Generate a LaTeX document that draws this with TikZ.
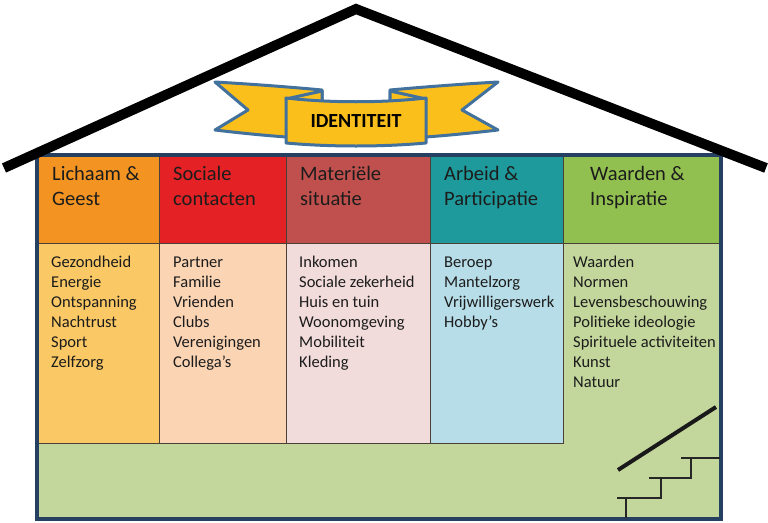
\documentclass[tikz,border=0pt]{standalone}
\usepackage{fontspec}
\setmainfont{Carlito}
\definecolor{hdA}{HTML}{F39422}
\definecolor{hdB}{HTML}{E42124}
\definecolor{hdC}{HTML}{C0504D}
\definecolor{hdD}{HTML}{1F9A9C}
\definecolor{hdE}{HTML}{92C050}
\definecolor{bdA}{HTML}{FAC864}
\definecolor{bdB}{HTML}{FBD4B4}
\definecolor{bdC}{HTML}{F2DCDB}
\definecolor{bdD}{HTML}{B7DDE8}
\definecolor{bdE}{HTML}{C3D69B}
\definecolor{housebd}{HTML}{254061}
\definecolor{bannerfill}{HTML}{FBBF1C}
\definecolor{bannerline}{HTML}{41719C}
\definecolor{txt}{HTML}{1C1C1C}
\definecolor{cellline}{HTML}{4A4038}
\tikzset{
  hdr/.style={anchor=base west, inner sep=0pt, text=txt, font=\fontsize{20.5}{25}\selectfont},
  item/.style={anchor=base west, inner sep=0pt, text=txt, font=\fontsize{16.5}{20}\selectfont},
  cellbox/.style={draw=cellline, line width=0.8pt},
  roofline/.style={line width=10pt, draw=black, line join=miter},
  bannerpart/.style={fill=bannerfill, draw=bannerline, line width=3pt, line join=round},
  stairline/.style={line width=1.6pt, draw=black!85},
  railline/.style={line width=4pt, draw=black!90}
}
\begin{document}
\begin{tikzpicture}[x=1pt,y=-1pt]
\useasboundingbox (0,0) rectangle (768,522);
% house body
\fill[bdE] (37,155) rectangle (721,519);
% header cells
\filldraw[cellbox, fill=hdA] (37,155) rectangle (159,243);
\filldraw[cellbox, fill=hdB] (159,155) rectangle (286,243);
\filldraw[cellbox, fill=hdC] (286,155) rectangle (430,243);
\filldraw[cellbox, fill=hdD] (430,155) rectangle (563,243);
\filldraw[cellbox, fill=hdE] (563,155) rectangle (721,243);
% body cells
\filldraw[cellbox, fill=bdA] (37,243) rectangle (159,443);
\filldraw[cellbox, fill=bdB] (159,243) rectangle (286,443);
\filldraw[cellbox, fill=bdC] (286,243) rectangle (430,443);
\filldraw[cellbox, fill=bdD] (430,243) rectangle (563,443);
% outer border
\draw[line width=3.5pt, draw=housebd] (37,155) rectangle (721,519);
% roof
\coordinate (roofL) at (4,168);
\coordinate (roofT) at (356,9);
\coordinate (roofR) at (766,168);
\draw[roofline] (roofL) -- (roofT) -- (roofR);
% banner: wings
\filldraw[bannerpart] (215,82) .. controls (250,84) and (290,87) .. (322,90) -- (322,118) -- (286,137)
  .. controls (260,135) and (240,133) .. (215,130) -- (248,110) -- cycle;
\filldraw[bannerpart] (498,82) .. controls (463,84) and (423,87) .. (390,90) -- (390,118) -- (426,137)
  .. controls (452,135) and (472,133) .. (498,130) -- (462,110) -- cycle;
% banner: folds
\filldraw[bannerpart] (286,99) -- (322,91) -- (322,104) -- cycle;
\filldraw[bannerpart] (426,99) -- (390,91) -- (390,104) -- cycle;
% banner: front
\filldraw[bannerpart] (286,98) .. controls (330,103) and (382,103) .. (426,98) -- (426,143)
  .. controls (382,147) and (330,147) .. (286,143) -- cycle;
\node[anchor=base, inner sep=0pt, text=black, font=\fontsize{20}{24}\selectfont\bfseries] (ident) at (356,127) {IDENTITEIT};
% headers
\node[hdr] (h1) at (52,180) {\begin{tabular}[t]{@{}l@{}}Lichaam \&\\Geest\end{tabular}};
\node[hdr] (h2) at (173,180) {\begin{tabular}[t]{@{}l@{}}Sociale\\contacten\end{tabular}};
\node[hdr] (h3) at (300,180) {\begin{tabular}[t]{@{}l@{}}Materiële\\situatie\end{tabular}};
\node[hdr] (h4) at (444,180) {\begin{tabular}[t]{@{}l@{}}Arbeid \&\\Participatie\end{tabular}};
\node[hdr] (h5) at (590,180) {\begin{tabular}[t]{@{}l@{}}Waarden \&\\Inspiratie\end{tabular}};
% items
\node[item] (i1) at (51,267) {\begin{tabular}[t]{@{}l@{}}Gezondheid\\Energie\\Ontspanning\\Nachtrust\\Sport\\Zelfzorg\end{tabular}};
\node[item] (i2) at (173,267) {\begin{tabular}[t]{@{}l@{}}Partner\\Familie\\Vrienden\\Clubs\\Verenigingen\\Collega’s\end{tabular}};
\node[item] (i3) at (299,267) {\begin{tabular}[t]{@{}l@{}}Inkomen\\Sociale zekerheid\\Huis en tuin\\Woonomgeving\\Mobiliteit\\Kleding\end{tabular}};
\node[item] (i4) at (444,267) {\begin{tabular}[t]{@{}l@{}}Beroep\\Mantelzorg\\Vrijwilligerswerk\\Hobby’s\end{tabular}};
\node[item] (i5) at (573,267) {\begin{tabular}[t]{@{}l@{}}Waarden\\Normen\\Levensbeschouwing\\Politieke ideologie\\Spirituele activiteiten\\Kunst\\Natuur\end{tabular}};
% stairs
\draw[railline] (618,470) -- (716,407);
\draw[stairline] (626,518) -- (626,498);
\draw[stairline] (617,498) -- (661,498) -- (661,478);
\draw[stairline] (649,478) -- (691,478) -- (691,458);
\draw[stairline] (681,458) -- (720,458);
\end{tikzpicture}
\end{document}
